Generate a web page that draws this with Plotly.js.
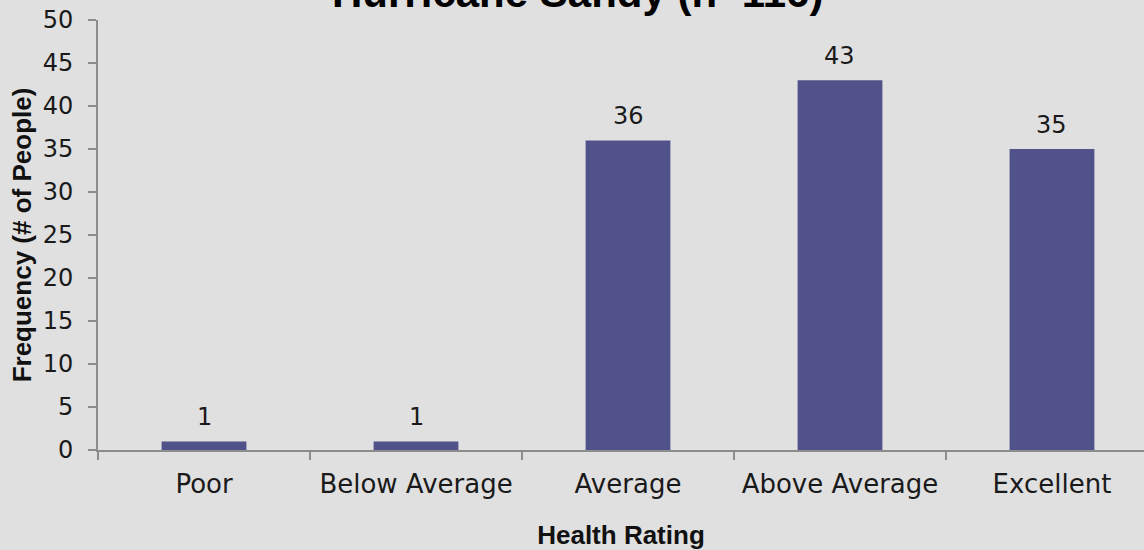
<!DOCTYPE html>
<html>
<head>
<meta charset="utf-8">
<script src="https://cdn.plot.ly/plotly-3.0.1.min.js"></script>
<style>
  html, body { margin: 0; padding: 0; background: #e0e0e0; }
  #chart { width: 1144px; height: 550px; }
</style>
</head>
<body>
<div id="chart"></div>
<script>
const categories = ["Poor", "Below Average", "Average", "Above Average", "Excellent"];
const frequencies = [1, 1, 36, 43, 35];
const chartTitle = "Hurricane Sandy (n=116)";
const xTitle = "Health Rating";
const yTitle = "Frequency (# of People)";
const yTicks = [0, 5, 10, 15, 20, 25, 30, 35, 40, 45, 50];

const barColor = "#52528a";
const axisColor = "#8c8c8c";
const bg = "#e0e0e0";
const tickFont = { family: "DejaVu Sans", size: 24, color: "#1a1a1a" };

const trace = {
  type: "bar",
  x: categories,
  y: frequencies,
  marker: { color: barColor },
  width: 0.4,
  hoverinfo: "x+y"
};

const annotations = categories.map((c, i) => ({
  x: c, y: frequencies[i], xref: "x", yref: "y",
  text: String(frequencies[i]),
  showarrow: false, yanchor: "bottom", yshift: 8,
  font: tickFont
}));

const layout = {
  width: 1144, height: 550,
  margin: { l: 98, r: 0, t: 20, b: 100 },
  paper_bgcolor: bg, plot_bgcolor: bg,
  showlegend: false,
  title: {
    text: chartTitle,
    font: { family: "Liberation Sans", size: 42, color: "#000", weight: "bold" },
    xref: "container", yref: "container",
    x: 0.505, xanchor: "center",
    y: 1 - 7 / 550, yanchor: "bottom"
  },
  xaxis: {
    type: "category",
    range: [-0.5, 4.434],
    showline: true, linecolor: axisColor, linewidth: 2,
    ticks: "outside", tickson: "boundaries", ticklen: 8, tickwidth: 1.5, tickcolor: axisColor,
    tickfont: { family: "DejaVu Sans", size: 26, color: "#1a1a1a" },
    ticklabelstandoff: 10,
    showgrid: false, zeroline: false,
    title: { text: xTitle, font: { family: "Liberation Sans", size: 26, color: "#111", weight: "bold" }, standoff: 28 }
  },
  yaxis: {
    range: [0, 50],
    tickvals: yTicks,
    showline: true, linecolor: axisColor, linewidth: 2,
    ticks: "outside", ticklen: 8, tickwidth: 1.5, tickcolor: axisColor,
    tickfont: tickFont,
    ticklabelstandoff: 10,
    showgrid: false, zeroline: false,
    title: { text: yTitle, font: { family: "Liberation Sans", size: 26, color: "#111", weight: "bold" }, standoff: 4 }
  },
  annotations: annotations
};

Plotly.newPlot("chart", [trace], layout, { displayModeBar: false, staticPlot: true });
</script>
</body>
</html>
